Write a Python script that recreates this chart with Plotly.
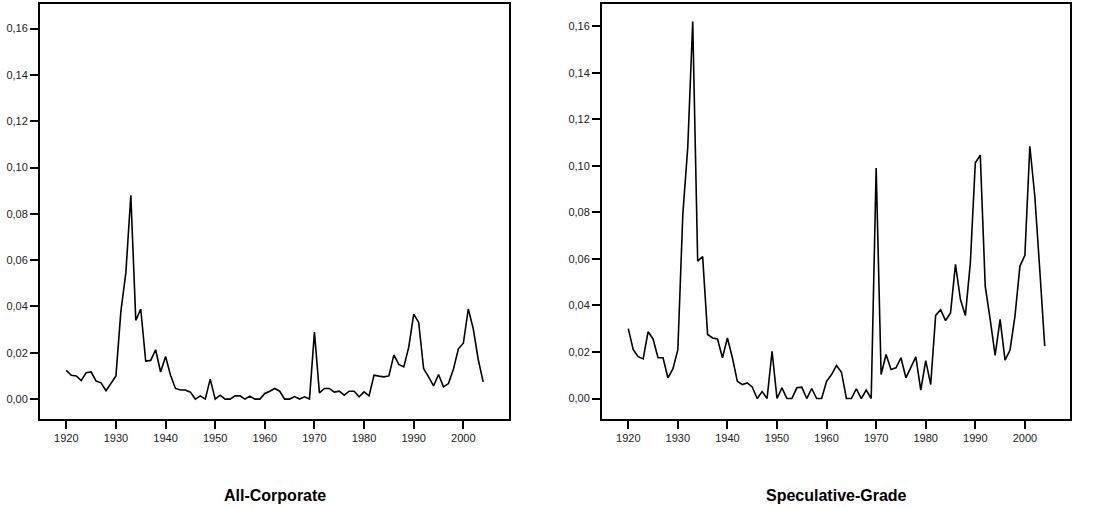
import plotly.graph_objects as go
from plotly.subplots import make_subplots

years = list(range(1920, 2005))

all_corporate = [
    0.0124, 0.0103, 0.0100, 0.0080, 0.0114, 0.0117, 0.0078, 0.0070, 0.0036, 0.0070,
    0.0100, 0.0380, 0.0546, 0.0880, 0.0340, 0.0389, 0.0164, 0.0167, 0.0213, 0.0117,
    0.0184, 0.0103, 0.0046, 0.0039, 0.0039, 0.0030, 0.0000, 0.0014, 0.0000, 0.0086,
    0.0000, 0.0017, 0.0000, 0.0000, 0.0014, 0.0014, 0.0000, 0.0013, 0.0000, 0.0000,
    0.0024, 0.0034, 0.0046, 0.0034, 0.0000, 0.0000, 0.0011, 0.0000, 0.0010, 0.0000,
    0.0289, 0.0027, 0.0046, 0.0046, 0.0030, 0.0034, 0.0017, 0.0034, 0.0034, 0.0010,
    0.0031, 0.0014, 0.0103, 0.0099, 0.0096, 0.0100, 0.0191, 0.0150, 0.0139, 0.0224,
    0.0367, 0.0331, 0.0131, 0.0096, 0.0057, 0.0106, 0.0053, 0.0067, 0.0129, 0.0217,
    0.0241, 0.0389, 0.0303, 0.0171, 0.0074,
]

speculative_grade = [
    0.0300, 0.0210, 0.0180, 0.0170, 0.0287, 0.0256, 0.0175, 0.0175, 0.0089, 0.0127,
    0.0210, 0.0790, 0.1080, 0.1620, 0.0590, 0.0610, 0.0275, 0.0260, 0.0256, 0.0175,
    0.0260, 0.0175, 0.0074, 0.0060, 0.0067, 0.0050, 0.0000, 0.0030, 0.0000, 0.0203,
    0.0000, 0.0046, 0.0000, 0.0000, 0.0046, 0.0049, 0.0000, 0.0043, 0.0000, 0.0000,
    0.0074, 0.0103, 0.0142, 0.0113, 0.0000, 0.0000, 0.0042, 0.0000, 0.0036, 0.0000,
    0.0990, 0.0103, 0.0189, 0.0125, 0.0132, 0.0175, 0.0089, 0.0135, 0.0179, 0.0036,
    0.0163, 0.0060, 0.0357, 0.0382, 0.0335, 0.0368, 0.0576, 0.0425, 0.0357, 0.0583,
    0.1013, 0.1046, 0.0483, 0.0340, 0.0185, 0.0340, 0.0165, 0.0208, 0.0354, 0.0569,
    0.0615, 0.1084, 0.0870, 0.0554, 0.0225,
]

titles = ["All-Corporate", "Speculative-Grade"]
x_ticks = [1920, 1930, 1940, 1950, 1960, 1970, 1980, 1990, 2000]
y_ticks = [0.00, 0.02, 0.04, 0.06, 0.08, 0.10, 0.12, 0.14, 0.16]

W, H = 1113, 508
fig = make_subplots(rows=1, cols=2)

for i, series in enumerate([all_corporate, speculative_grade], start=1):
    fig.add_trace(
        go.Scatter(x=years, y=series, mode="lines",
                   line=dict(color="black", width=1.6), showlegend=False),
        row=1, col=i,
    )

font_family = "Liberation Sans, Arial, sans-serif"
axis_common = dict(
    showline=True, linecolor="black", linewidth=2, mirror=True,
    ticks="outside", ticklen=8, tickwidth=1.5, tickcolor="black",
    showgrid=False, zeroline=False,
    tickfont=dict(family=font_family, size=11, color="#222"),
)

x_domains = [[40 / W, 509 / W], [602 / W, 1070 / W]]
y_domain = [1 - 419 / H, 1 - 4 / H]

fig.update_layout(
    width=W, height=H,
    margin=dict(l=0, r=0, t=0, b=0),
    paper_bgcolor="white", plot_bgcolor="white",
    separators=", ",
    xaxis=dict(domain=x_domains[0], range=[1914.7, 2009.2], tickvals=x_ticks, **axis_common),
    xaxis2=dict(domain=x_domains[1], range=[1914.7, 2009.1], tickvals=x_ticks, **axis_common),
    yaxis=dict(domain=y_domain, range=[-0.0086, 0.1706], tickvals=y_ticks, tickformat=".2f", **axis_common),
    yaxis2=dict(domain=y_domain, range=[-0.0088, 0.1695], tickvals=y_ticks, tickformat=".2f", **axis_common),
)

centers = [(40 + 509) / 2 / W, (602 + 1070) / 2 / W]
for c, t in zip(centers, titles):
    fig.add_annotation(
        x=c, y=1 - 495 / H, xref="paper", yref="paper",
        text="<b>" + t + "</b>", showarrow=False,
        font=dict(family=font_family, size=16, color="black"),
        xanchor="center", yanchor="middle",
    )

fig.write_html("out.html")
